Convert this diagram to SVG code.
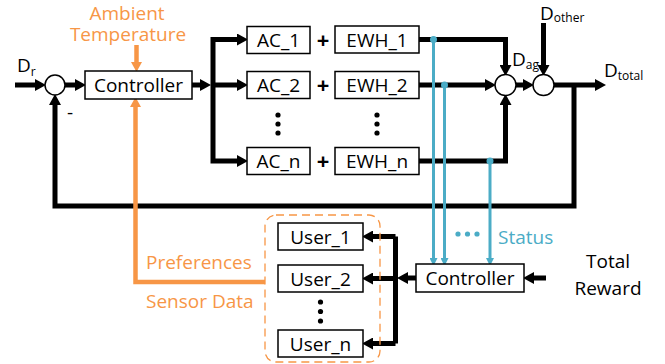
<svg xmlns="http://www.w3.org/2000/svg" width="665" height="364" viewBox="0 0 665 364">
  <style>
    .box { fill: #fff; stroke: #000; stroke-width: 1.5; }
    .sum { fill: #fff; stroke: #000; stroke-width: 1.5; }
    .t { font-family: "Open Sans", "Noto Sans", sans-serif; font-size: 19px; fill: #000; }
    .mid { text-anchor: middle; }
    .sub { font-size: 12px; }
    .or { fill: #F79646; }
    .bl { fill: #4BACC6; }
    .wire { fill: none; stroke: #000; stroke-width: 5; stroke-linejoin: miter; }
    .blue { fill: none; stroke: #4BACC6; stroke-width: 3; }
    .orange { fill: none; stroke: #F79646; stroke-width: 4.5; stroke-linejoin: miter; }
  </style>
  <defs>
    <marker id="ab" markerUnits="userSpaceOnUse" markerWidth="11" markerHeight="12" refX="5" refY="6" orient="auto">
      <path d="M0,0 L11,6 L0,12 z" fill="#000"/>
    </marker>
    <marker id="abl" markerUnits="userSpaceOnUse" markerWidth="8" markerHeight="8" refX="3" refY="4" orient="auto">
      <path d="M0,0 L8,4 L0,8 z" fill="#4BACC6"/>
    </marker>
    <marker id="aor" markerUnits="userSpaceOnUse" markerWidth="10" markerHeight="11" refX="4" refY="5.5" orient="auto">
      <path d="M0,0 L10,5.5 L0,11 z" fill="#F79646"/>
    </marker>
  </defs>

  <!-- connectors -->
  <g id="connectors">
    <!-- reference input and feedback loop -->
    <line class="wire" x1="15" y1="85" x2="40" y2="85" marker-end="url(#ab)"/>
    <line class="wire" x1="65" y1="85" x2="80" y2="85" marker-end="url(#ab)"/>
    <line class="wire" x1="192" y1="85" x2="205" y2="85" marker-end="url(#ab)"/>
    <path class="wire" d="M242,39.5 H213 V161 H242" marker-end="url(#ab)"/>
    <line class="wire" x1="213" y1="39.5" x2="242" y2="39.5" marker-end="url(#ab)"/>
    <line class="wire" x1="213" y1="85" x2="242" y2="85" marker-end="url(#ab)"/>
    <!-- appliance outputs into aggregate sum -->
    <path class="wire" d="M419,39.5 H505.5 V70" marker-end="url(#ab)"/>
    <line class="wire" x1="419" y1="85" x2="490" y2="85" marker-end="url(#ab)"/>
    <path class="wire" d="M419,161 H505.5 V100" marker-end="url(#ab)"/>
    <line class="wire" x1="516" y1="85" x2="528" y2="85" marker-end="url(#ab)"/>
    <line class="wire" x1="543.5" y1="23" x2="543.5" y2="70" marker-end="url(#ab)"/>
    <line class="wire" x1="554" y1="85" x2="600" y2="85" marker-end="url(#ab)"/>
    <path class="wire" d="M574,85 V206 H55 V100" marker-end="url(#ab)"/>
    <!-- user controller to users -->
    <line class="wire" x1="395.5" y1="236.5" x2="395.5" y2="343.5"/>
    <line class="wire" x1="395.5" y1="236.5" x2="368" y2="236.5" marker-end="url(#ab)"/>
    <line class="wire" x1="395.5" y1="278.5" x2="368" y2="278.5" marker-end="url(#ab)"/>
    <line class="wire" x1="395.5" y1="343.5" x2="368" y2="343.5" marker-end="url(#ab)"/>
    <line class="wire" x1="416" y1="278" x2="403" y2="278" marker-end="url(#ab)"/>
    <line class="wire" x1="546" y1="278" x2="529" y2="278" marker-end="url(#ab)"/>
    <!-- orange inputs -->
    <line class="orange" x1="136.5" y1="45" x2="136.5" y2="66" marker-end="url(#aor)"/>
    <path class="orange" d="M265,282 H135.5 V103" marker-end="url(#aor)"/>
    <!-- blue status lines -->
    <line class="blue" x1="433.5" y1="39.5" x2="433.5" y2="261" marker-end="url(#abl)"/>
    <line class="blue" x1="444.5" y1="85" x2="444.5" y2="261" marker-end="url(#abl)"/>
    <line class="blue" x1="490" y1="161" x2="490" y2="261" marker-end="url(#abl)"/>
    <circle class="bl" cx="433.5" cy="39.5" r="3.5"/>
    <circle class="bl" cx="444.5" cy="85" r="3.5"/>
    <circle class="bl" cx="490" cy="161" r="3.5"/>
  </g>

  <!-- summing junctions -->
  <g id="sum-ref"><circle class="sum" cx="55" cy="85" r="10"/></g>
  <g id="sum-ag"><circle class="sum" cx="505.5" cy="85" r="10.5"/></g>
  <g id="sum-total"><circle class="sum" cx="543.5" cy="85" r="10.5"/></g>

  <!-- main controller -->
  <g id="controller-main">
    <rect class="box" x="85" y="71" width="107" height="28"/>
    <text class="t mid" x="138.5" y="92">Controller</text>
  </g>

  <!-- appliance rows -->
  <g id="ac-1"><rect class="box" x="247" y="26.5" width="63" height="27"/><text class="t mid" x="278.5" y="47">AC_1</text></g>
  <g id="ac-2"><rect class="box" x="247" y="71.5" width="63" height="27"/><text class="t mid" x="278.5" y="92">AC_2</text></g>
  <g id="ac-n"><rect class="box" x="247" y="147.5" width="63" height="27"/><text class="t mid" x="278.5" y="168">AC_n</text></g>
  <g id="ewh-1"><rect class="box" x="335" y="26" width="84" height="27"/><text class="t mid" x="377" y="47">EWH_1</text></g>
  <g id="ewh-2"><rect class="box" x="335" y="71.5" width="84" height="27"/><text class="t mid" x="377" y="92">EWH_2</text></g>
  <g id="ewh-n"><rect class="box" x="335" y="147.5" width="84" height="27"/><text class="t mid" x="377" y="168">EWH_n</text></g>
  <g id="plus-signs" font-family="Open Sans, sans-serif" font-weight="bold" font-size="22" text-anchor="middle">
    <text x="323" y="47.5">+</text>
    <text x="323" y="92.5">+</text>
    <text x="323" y="168.5">+</text>
  </g>
  <g id="row-dots">
    <circle cx="278" cy="115" r="2.6"/><circle cx="278" cy="124" r="2.6"/><circle cx="278" cy="133" r="2.6"/>
    <circle cx="377" cy="115" r="2.6"/><circle cx="377" cy="124" r="2.6"/><circle cx="377" cy="133" r="2.6"/>
  </g>

  <!-- signal labels -->
  <g id="labels">
    <text class="t" x="17" y="72" font-size="18">D<tspan class="sub" dy="4">r</tspan></text>
    <text class="t" x="67" y="119" font-size="15">-</text>
    <text class="t" x="512" y="66" font-size="18">D<tspan class="sub" dy="3">ag</tspan></text>
    <text class="t" x="540" y="20" font-size="18">D<tspan class="sub" dy="2">other</tspan></text>
    <text class="t" x="604" y="77" font-size="18">D<tspan class="sub" dy="3">total</tspan></text>
    <text class="t mid or" x="127" y="19.5" font-size="18">Ambient</text>
    <text class="t mid or" x="128" y="40.5" font-size="18.5">Temperature</text>
    <text class="t or" x="146" y="269">Preferences</text>
    <text class="t or" x="146" y="308">Sensor Data</text>
    <text class="t bl" x="498" y="244">Status</text>
    <circle class="bl" cx="458" cy="234" r="2.6"/><circle class="bl" cx="467.5" cy="234" r="2.6"/><circle class="bl" cx="477" cy="234" r="2.6"/>
    <text class="t mid" x="608" y="268">Total</text>
    <text class="t mid" x="608" y="295">Reward</text>
  </g>

  <!-- users group -->
  <g id="users">
    <rect x="265" y="215" width="115" height="147" rx="11" fill="none" stroke="#F79646" stroke-width="1.3" stroke-dasharray="8,5"/>
    <g id="user-1"><rect class="box" x="278" y="223" width="85" height="27"/><text class="t mid" x="320.5" y="243.5">User_1</text></g>
    <g id="user-2"><rect class="box" x="278" y="265" width="85" height="27"/><text class="t mid" x="320.5" y="285.5">User_2</text></g>
    <g id="user-n"><rect class="box" x="278" y="330" width="85" height="27"/><text class="t mid" x="320.5" y="350.5">User_n</text></g>
    <circle cx="320.5" cy="302" r="2.6"/><circle cx="320.5" cy="311.5" r="2.6"/><circle cx="320.5" cy="321" r="2.6"/>
  </g>

  <!-- user-side controller -->
  <g id="controller-user">
    <rect class="box" x="416" y="264" width="108" height="28"/>
    <text class="t mid" x="470" y="285">Controller</text>
  </g>
</svg>
